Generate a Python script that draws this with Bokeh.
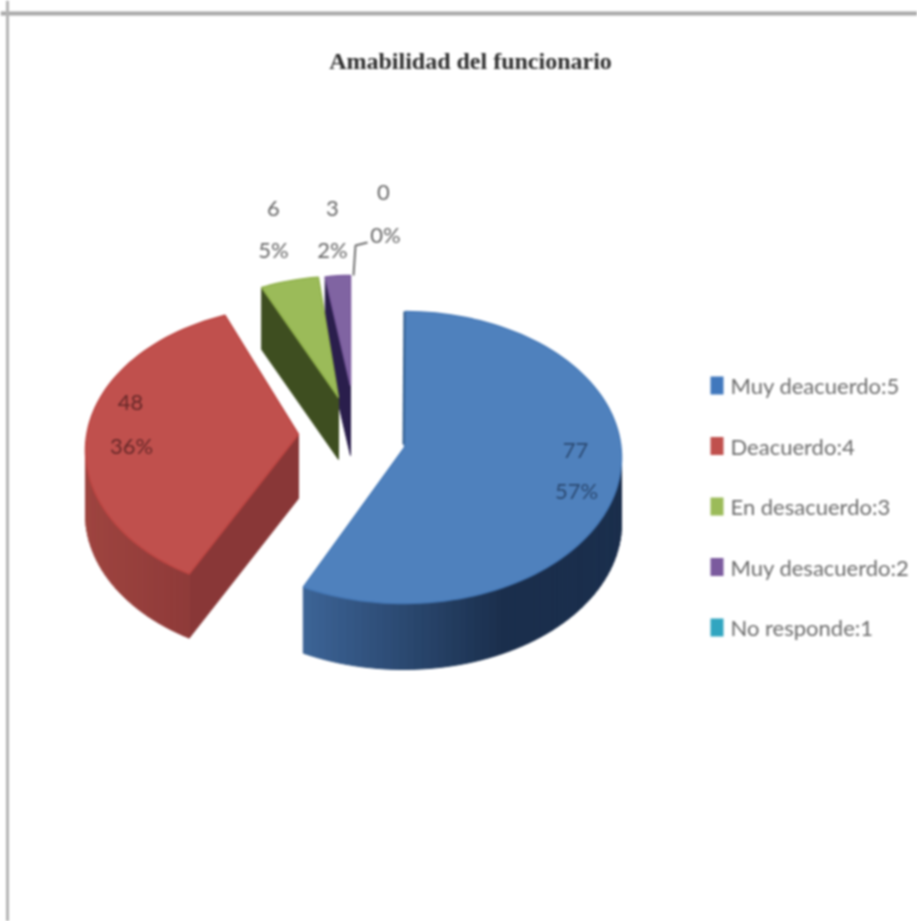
import math
from bokeh.plotting import figure
from bokeh.models import Range1d, Span
from bokeh.core.properties import value
from bokeh.embed import file_html
from bokeh.resources import INLINE

# ---- data ----
title_text = "Amabilidad del funcionario"
categories = ["Muy deacuerdo:5", "Deacuerdo:4", "En desacuerdo:3", "Muy desacuerdo:2", "No responde:1"]
counts = [77, 48, 6, 3, 0]
percent_labels = ["57%", "36%", "5%", "2%", "0%"]

# ---- style ----
top_colors = ["#4f81bd", "#c0504d", "#9bbb59", "#8064a2", "#31a5c0"]
rim_colors = ["#4579b8", "#bd4441", "#8fb04a", "#7a5a9e", "#31a5c0"]
wall_from = [(60, 100, 150), (158, 68, 63), (62, 78, 32), (36, 26, 66), (30, 110, 130)]
wall_to = [(26, 46, 76), (137, 55, 55), (62, 78, 32), (36, 26, 66), (30, 110, 130)]
inner_colors = ["#35608f", "#893737", "#3e4e20", "#2a1e4c", "#1e6e82"]
label_colors = ["#2a4870", "#662828", "#666666", "#666666", "#666666"]
legend_colors = ["#4178bd", "#c0504d", "#9bbb59", "#7b5a9e", "#31a5c0"]

# Layout of each exploded slice, in picture pixels:
# apex x/y, ellipse centre x/y, radii x/y, thickness, angular bias in degrees
geometry = [
    (404, 447, 403, 457, 218, 146, 66, 0.5),
    (298, 434, 298, 450, 213, 144, 64, 4.0),
    (338, 397, 338, 432, 208, 156, 62, 2.5),
    (350, 385, 350, 421, 180, 146, 70, 0.0),
    (353, 390, 353, 421, 180, 146, 70, 0.0),
]
count_label_pos = [(575, 450), (130, 402), (273, 208), (332, 208), (383, 192)]
pct_label_pos = [(576, 490), (131, 445), (273, 249), (332, 249), (385, 234)]
legend_x, legend_first_y, legend_step = 710, 385, 60.5
label_font = value("Lato")
label_size = "22px"

W, H = 917, 921
p = figure(width=W, height=H, x_range=Range1d(0, W), y_range=Range1d(H, 0),
           output_backend="svg", toolbar_location=None, min_border=0,
           background_fill_color="white", border_fill_color="white")
p.axis.visible = False
p.grid.visible = False
p.outline_line_color = None
p.styles = {"filter": "blur(1.2px)"}

p.add_layout(Span(location=13, dimension="width", line_color="#a8a8a8", line_width=4))
p.add_layout(Span(location=7, dimension="height", line_color="#b4b4b4", line_width=3))

total = sum(counts)


def rim(g, deg):
    ax, ay, cx, cy, rx, ry, d, bias = g
    t = math.radians(deg + bias)
    return cx + rx * math.sin(t), cy - ry * math.cos(t)


def mix(a, b, f):
    f = max(0.0, min(1.0, f))
    return "#%02x%02x%02x" % tuple(round(a[i] + (b[i] - a[i]) * f) for i in range(3))


start = 0.0
spans = []
for c in counts:
    end = start + 360.0 * c / total
    spans.append((start, end))
    start = end

# back slices first so the nearer ones overlap correctly
for i in [3, 2, 1, 0]:
    g = geometry[i]
    s, e = spans[i]
    ax, ay, cx, cy, rx, ry, d, bias = g
    n = max(4, int((e - s) / 2))
    degs = [s + (e - s) * k / n for k in range(n + 1)]
    pts = [rim(g, a) for a in degs]

    # flat wall between the slice's first radial edge and its apex
    if i in (1, 2, 3):
        edge = pts[0]
        p.patch([edge[0], ax, ax, edge[0]], [edge[1], ay, ay + d, edge[1] + d],
                fill_color=inner_colors[i], line_color=inner_colors[i], line_width=1)

    # curved outer wall, shaded with small quads
    xmin, xmax = min(q[0] for q in pts), max(q[0] for q in pts)
    for k in range(n):
        (x0, y0), (x1, y1) = pts[k], pts[k + 1]
        if 90 <= degs[k] + bias <= 272:
            f = ((x0 + x1) / 2 - xmin) / max(1, xmax - xmin) * (1.6 if i == 0 else 1)
            col = mix(wall_from[i], wall_to[i], f)
            p.patch([x0, x1, x1, x0], [y0, y1, y1 + d, y0 + d], fill_color=col, line_color=col, line_width=1)

    # top face
    p.patch([ax] + [q[0] for q in pts], [ay] + [q[1] for q in pts],
            fill_color=top_colors[i], line_color=rim_colors[i], line_width=1.5)
    if i == 0:
        p.line([ax - 1, pts[0][0] - 1], [ay - 3, pts[0][1]], line_color=inner_colors[0], line_width=2)

# leader line of the empty slice
rx0, ry0 = rim(geometry[3], spans[3][1])
lx, ly = pct_label_pos[4]
p.line([rx0 + 3, rx0 + 5, lx - 18], [ry0, ly + 11, ly + 8], line_color="#6f6f6f", line_width=2)

# data labels
for i, c in enumerate(counts):
    p.text([count_label_pos[i][0]], [count_label_pos[i][1]], text=[str(c)], text_font=label_font,
           text_font_size=label_size, text_color=label_colors[i], text_align="center", text_baseline="middle")
    p.text([pct_label_pos[i][0]], [pct_label_pos[i][1]], text=[percent_labels[i]], text_font=label_font,
           text_font_size=label_size, text_color=label_colors[i], text_align="center", text_baseline="middle")

# legend
for i, name in enumerate(categories):
    y = legend_first_y + legend_step * i
    p.rect([legend_x + 6.5], [y], width=13, height=18, fill_color=legend_colors[i], line_color=None)
    p.text([legend_x + 20], [y], text=[name], text_font=label_font, text_font_size=label_size,
           text_color="#6c6c6c", text_align="left", text_baseline="middle")

# title
p.text([470], [60], text=[title_text], text_font=value("Liberation Serif"), text_font_style="bold",
       text_font_size="24px", text_color="#2e2e2e", text_align="center", text_baseline="middle")

open("out.html", "w").write(file_html(p, INLINE))
